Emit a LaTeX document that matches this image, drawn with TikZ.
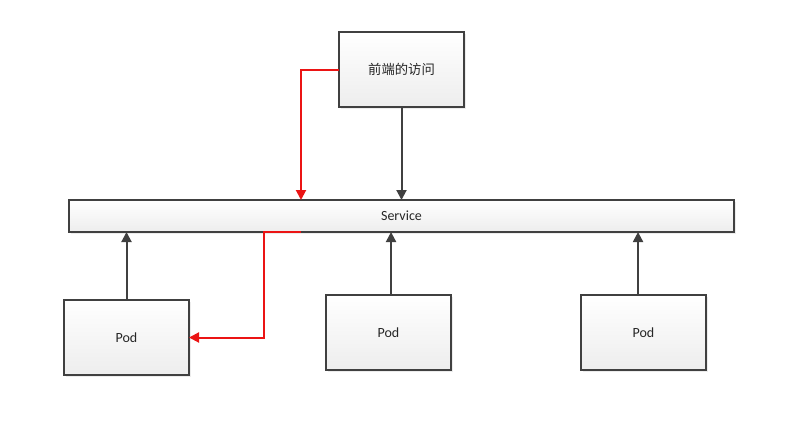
\documentclass[tikz,border=0pt]{standalone}
\usepackage{fontspec}
\setmainfont{Carlito}
\newfontfamily\cjk{Noto Sans CJK SC}
\usetikzlibrary{arrows.meta,shadows}

\definecolor{linegray}{RGB}{64,64,64}
\definecolor{flowred}{RGB}{235,20,20}

\tikzset{
  box/.style={draw=linegray, line width=0.8pt, top color=white, bottom color=black!7,
    drop shadow={opacity=0.15, shadow xshift=1.5pt, shadow yshift=-1.5pt},
    minimum width=93.75pt, minimum height=56.25pt, inner sep=0pt, outer sep=0pt,
    text=black!85, font=\fontsize{10.5pt}{10.5pt}\selectfont},
  link/.style={draw=linegray, line width=1.5pt, -{Triangle[length=7.5pt,width=7.5pt]}},
  redlink/.style={draw=flowred, line width=1.5pt, -{Triangle[length=7.5pt,width=7.5pt]}}
}

\begin{document}
\begin{tikzpicture}[x=0.75pt,y=-0.75pt]
  \useasboundingbox (0,0) rectangle (792,421);
  % front access box
  \node [box, font=\cjk\fontsize{10pt}{10pt}\selectfont] (front) at (401.5,69.5) {前端的访问};
  % service bar
  \node [box, minimum width=498.75pt, minimum height=24pt] (svc) at (401.5,216) {Service};
  % pods
  \node [box] (pod1) at (126.5,337.5) {Pod};
  \node [box] (pod2) at (388.5,332.5) {Pod};
  \node [box] (pod3) at (643.5,332.5) {Pod};
  % front to service
  \draw [link] (front.south) -- (front.south |- svc.north);
  % red request path
  \coordinate (redin) at (301,0);
  \draw [redlink] (front.west) -| (redin |- svc.north);
  \draw [redlink] (redin |- svc.south) -- ++(-37,0) |- (pod1.east);
  % pods up to service
  \draw [link] (pod1.north) -- (pod1.north |- svc.south);
  \draw [link] ([xshift=1.9pt]pod2.north) -- ([xshift=1.9pt]pod2.north |- svc.south);
  \draw [link] ([xshift=-4.1pt]pod3.north) -- ([xshift=-4.1pt]pod3.north |- svc.south);
\end{tikzpicture}
\end{document}
